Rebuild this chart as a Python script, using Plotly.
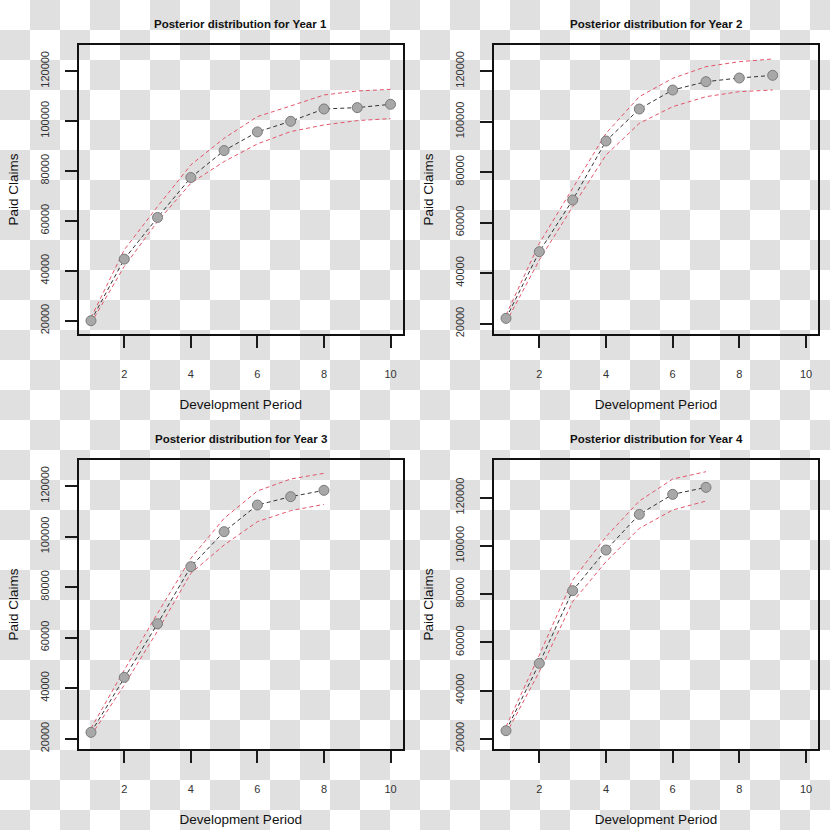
import plotly.graph_objects as go

# ---------------- data ----------------
years = ["Year 1", "Year 2", "Year 3", "Year 4"]

y1_mean  = [20000, 44667, 61333, 77333, 88133, 95600, 99867, 104800, 105333, 106667]
y1_upper = [21200, 48400, 65733, 82400, 93067, 101733, 106000, 110400, 112000, 112667]
y1_lower = [19000, 41733, 59733, 75067, 83733, 90800, 95733, 98400, 100133, 100933]

y2_mean  = [22111, 48496, 68945, 92296, 104960, 112480, 115778, 117230, 118285]
y2_upper = [23430, 51794, 73562, 95330, 109842, 117098, 121715, 123694, 124749]
y2_lower = [20500, 45198, 66306, 86755, 99288, 105884, 109842, 111821, 112480]

y3_mean  = [22507, 44274, 65514, 88074, 101926, 112480, 115778, 118285]
y3_upper = [24090, 47177, 69604, 91372, 107203, 118021, 122770, 125013]
y3_lower = [21187, 41240, 62612, 85435, 96649, 105884, 110237, 112744]

y4_mean  = [23320, 51259, 81411, 98285, 113084, 121383, 124288]
y4_upper = [24979, 54717, 85837, 103817, 118617, 127745, 130788]
y4_lower = [21936, 47801, 76846, 93444, 107275, 114882, 118617]

means  = [y1_mean, y2_mean, y3_mean, y4_mean]
uppers = [y1_upper, y2_upper, y3_upper, y4_upper]
lowers = [y1_lower, y2_lower, y3_lower, y4_lower]

x_ticks = [2, 4, 6, 8, 10]
y_ticks = [20000, 40000, 60000, 80000, 100000, 120000]
y_ranges = [[14673, 130415], [15923, 130290], [15923, 130290], [15726, 135643]]

# ---------------- layout constants ----------------
W = H = 830
FONT = "Liberation Sans, Arial, sans-serif"
CELL = 30
N_CELLS = 28
# panel boxes in pixels: (left, right, top, bottom)
boxes = [(79, 402.5, 45, 334), (494, 818, 45, 334),
         (79, 402.5, 460, 749), (494, 818, 460, 749)]

fig = go.Figure()

# checkerboard background on its own full-figure axis
z = [[(r + c) % 2 for c in range(N_CELLS)] for r in range(N_CELLS)]
fig.add_trace(go.Heatmap(
    z=z, x0=CELL / 2, dx=CELL, y0=CELL / 2, dy=CELL,
    colorscale=[[0, "#ffffff"], [1, "#e0e0e0"]], zmin=0, zmax=1,
    showscale=False, hoverinfo="skip", xaxis="x", yaxis="y"))

layout = dict(
    template="none",
    width=W, height=H,
    margin=dict(l=0, r=0, t=0, b=0, pad=0),
    paper_bgcolor="white",
    plot_bgcolor="rgba(0,0,0,0)",
    showlegend=False,
    font=dict(family=FONT, color="#111111"),
    xaxis=dict(domain=[0, 1], range=[0, W], visible=False, fixedrange=True, automargin=False),
    yaxis=dict(domain=[0, 1], range=[H, 0], visible=False, fixedrange=True, automargin=False),
)

annotations = []
RED = "#e2566a"

for i in range(4):
    k = i + 2
    xa, ya = f"x{k}", f"y{k}"
    n = len(means[i])
    xs = list(range(1, n + 1))
    for band in (uppers[i], lowers[i]):
        fig.add_trace(go.Scatter(
            x=xs, y=band, mode="lines", xaxis=xa, yaxis=ya,
            line=dict(color=RED, width=1, dash="4px,3px"), hoverinfo="skip"))
    fig.add_trace(go.Scatter(
        x=xs, y=means[i], mode="lines+markers", xaxis=xa, yaxis=ya,
        line=dict(color="#333333", width=1, dash="4px,3px"),
        marker=dict(size=10, color="#a8a8a8", line=dict(color="#7a7a7a", width=1))))

    l, r, t, b = boxes[i]
    layout[f"xaxis{k}"] = dict(
        domain=[l / W, r / W], anchor=ya, range=[0.64, 10.36], automargin=False,
        tickvals=x_ticks, ticks="outside", ticklen=12, tickwidth=2, tickcolor="#1a1a1a",
        showline=True, linecolor="#111111", linewidth=2, mirror=True,
        showgrid=False, zeroline=False,
        tickfont=dict(size=11, color="#333333"), ticklabelstandoff=17,
        title=dict(text="Development Period", font=dict(size=13.5, color="#111111"), standoff=20))
    layout[f"yaxis{k}"] = dict(
        domain=[1 - b / H, 1 - t / H], anchor=xa, range=y_ranges[i], automargin=False,
        tickvals=y_ticks, tickformat="d", tickangle=-90,
        ticks="outside", ticklen=12, tickwidth=2, tickcolor="#1a1a1a",
        showline=True, linecolor="#111111", linewidth=2, mirror=True,
        showgrid=False, zeroline=False,
        tickfont=dict(size=11, color="#333333"), ticklabelstandoff=12,
        title=dict(text="Paid Claims", font=dict(size=13.5, color="#111111"), standoff=17))
    annotations.append(dict(
        text=f"<b>Posterior distribution for {years[i]}</b>",
        xref="paper", yref="paper", x=(l + r) / 2 / W, y=1 - (t - 21) / H,
        xanchor="center", yanchor="middle", showarrow=False,
        font=dict(size=11.5, color="#111111", family=FONT)))

layout["annotations"] = annotations
fig.update_layout(**layout)
# remove the browser's default 8px page margin so the figure fills the window
fig.write_html("out.html", config={"displayModeBar": False},
               post_script="document.body.style.margin='0';")
